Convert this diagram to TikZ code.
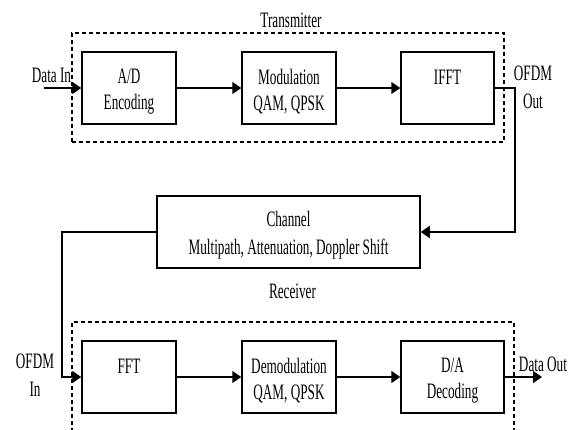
\documentclass[tikz,border=0pt]{standalone}
\usepackage{fontspec}
\setmainfont[FakeStretch=0.6]{Liberation Serif}
\usetikzlibrary{arrows.meta}
\newcommand{\ls}{\rule[-4pt]{0pt}{26pt}}

\begin{document}
\begin{tikzpicture}[x=1pt,y=-1pt,
      font=\fontsize{22}{26}\selectfont,
      block/.style={draw,line width=1.5pt,align=center,inner sep=0pt,minimum height=72pt},
      frame/.style={draw,line width=1.2pt,dash pattern=on 4pt off 3pt,inner sep=0pt,minimum height=109pt},
      txt/.style={align=center,inner sep=0pt},
      wide/.style={font=\fontsize{22}{28}\selectfont},
      sig/.style={line width=1.6pt,-{Triangle[length=9pt,width=12pt]}}]
      \clip (0,0) rectangle (570,429);
      \fill[white] (0,0) rectangle (570,429);
      % transmitter
      \node[frame,minimum width=432pt] (tx) at (288,87.5) {};
      \node[txt,anchor=base] (txname) at (291,27) {Transmitter};
      \node[block,minimum width=94pt] (ad) at (129,88) {A/D\ls\\Encoding\ls};
      \node[block,minimum width=94pt] (mod) at (289,88) {Modulation\ls\\QAM, QPSK\ls};
      \node[block,minimum width=93pt] (ifft) at (447.5,88) {IFFT\ls\\\ls};
      \node[txt,anchor=base] (din) at (51.5,82) {Data In};
      \node[txt,wide] (tout) at (533,85) {OFDM\ls\\Out\ls};
      \coordinate (dinS) at (44,88);
      \draw[sig] (dinS) -- (ad.west);
      \draw[sig] (ad) -- (mod);
      \draw[sig] (mod) -- (ifft);
      % channel
      \node[block,wide,minimum width=263pt] (ch) at (288.5,232) {Channel\ls\\Multipath, Attenuation, Doppler Shift\ls};
      \draw[sig] (ifft.east) -- ++(20,0) |- (ch.east);
      % receiver
      \node[txt,anchor=base] (rxname) at (292.5,298) {Receiver};
      \node[frame,minimum width=442pt] (rx) at (293,376.5) {};
      \node[block,minimum width=94pt] (fft) at (129,377) {FFT\ls\\\ls};
      \node[block,minimum width=94pt] (dem) at (289,377) {Demodulation\ls\\QAM, QPSK\ls};
      \node[block,minimum width=103pt] (da) at (452.5,377) {D/A\ls\\Decoding\ls};
      \node[txt,wide] (rin) at (35,373) {OFDM\ls\\In\ls};
      \node[txt,anchor=base] (dout) at (543,371) {Data Out};
      \coordinate (doutE) at (542,377);
      \draw[sig] (ch.west) -- ++(-94,0) |- (fft.west);
      \draw[sig] (fft) -- (dem);
      \draw[sig] (dem) -- (da);
      \draw[sig] (da.east) -- (doutE);
    \end{tikzpicture}
\end{document}
